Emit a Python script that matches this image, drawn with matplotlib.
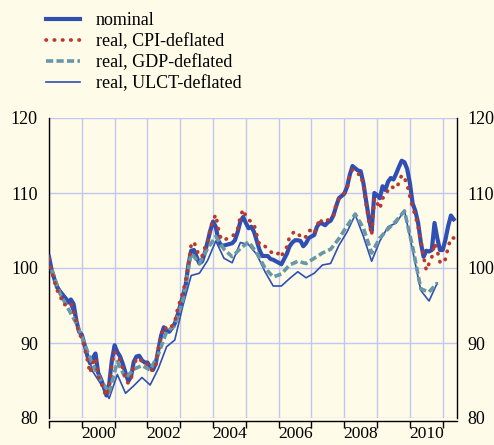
import numpy as np
import matplotlib
matplotlib.use("Agg")
import matplotlib.pyplot as plt
from matplotlib.lines import Line2D

# monthly series, Jan 1999 onwards
nominal = [
    101.5, 99.7, 98.5, 97.4, 96.9, 96.4, 95.9, 95.4, 95.8, 95.2, 93.0, 91.5,
    91.1, 89.8, 88.3, 87.3, 88.0, 88.6, 86.0, 85.2, 84.2, 83.0, 84.5, 87.7,
    89.7, 88.8, 88.2, 87.2, 86.0, 84.9, 85.5, 87.5, 88.2, 88.3, 87.7, 87.4,
    87.4, 86.8, 86.4, 87.2, 89.1, 91.0, 92.1, 91.6, 91.5, 92.0, 92.6, 93.7,
    95.0, 96.3, 97.8, 100.5, 102.3, 102.4, 101.5, 100.6, 100.9, 102.0, 103.5, 105.0,
    106.2, 105.5, 103.6, 103.0, 103.0, 103.1, 103.2, 103.3, 103.7, 104.8, 106.2, 106.8,
    106.0, 105.3, 105.5, 104.8, 103.6, 102.4, 101.6, 101.6, 101.6, 101.2, 101.1, 100.9,
    100.7, 100.5, 101.2, 101.9, 102.9, 103.4, 103.7, 103.7, 103.6, 102.9, 103.3, 104.0,
    104.2, 104.4, 105.5, 106.0, 105.9, 105.7, 106.1, 106.3, 107.0, 108.2, 109.3, 109.6,
    109.9, 110.8, 112.4, 113.6, 113.3, 113.0, 112.9, 111.3, 108.9, 106.6, 104.9, 110.0,
    109.7, 109.3, 110.9, 110.4, 111.5, 112.0, 111.8, 112.6, 113.5, 114.3, 114.1, 113.2,
    111.3, 108.6, 107.6, 106.0, 103.4, 101.5, 102.3, 102.2, 102.4, 106.0, 104.0, 102.4,
    102.4, 103.8, 105.6, 107.0, 106.5,
]
cpi_deflated = [
    101.2, 99.5, 98.2, 97.0, 96.5, 95.2, 95.1, 95.0, 95.3, 94.3, 92.8, 91.2,
    90.7, 89.3, 87.8, 86.0, 87.3, 88.0, 85.6, 84.8, 83.7, 82.9, 84.2, 87.2,
    88.8, 88.3, 87.7, 86.6, 85.3, 84.6, 85.2, 87.0, 87.9, 88.0, 87.5, 87.1,
    87.2, 86.5, 86.3, 87.0, 89.3, 91.0, 92.2, 91.9, 91.8, 92.3, 92.8, 94.5,
    95.7, 96.8, 98.3, 100.5, 103.1, 103.5, 102.5, 101.5, 101.6, 102.7, 103.3, 105.3,
    106.4, 107.1, 105.1, 103.8, 103.7, 103.9, 104.1, 104.2, 104.6, 105.2, 106.9, 107.8,
    106.9, 106.4, 106.2, 105.8, 104.4, 103.1, 102.9, 102.9, 102.5, 102.2, 101.9, 101.7,
    102.0, 101.5, 102.4, 102.8, 104.2, 104.6, 104.9, 104.6, 104.2, 103.9, 104.2, 105.0,
    105.0, 104.6, 105.5, 106.6, 106.0, 106.2, 106.4, 106.5, 107.0, 108.4, 109.2, 109.5,
    110.0, 110.6, 112.3, 113.1, 112.8, 112.5, 112.5, 111.0, 108.5, 106.2, 104.4, 109.3,
    108.7, 107.9, 109.3, 109.6, 110.4, 110.9, 110.7, 110.6, 111.4, 112.4, 112.0, 111.1,
    109.5, 108.0, 107.0, 105.5, 103.6, 101.5, 99.7, 100.6, 101.4, 103.3, 102.3, 100.8,
    100.6, 101.2, 102.8, 104.0, 104.0,
]
# quarterly series, 1999Q1 onwards
gdp_deflated = [
    99.8, 96.6, 94.6, 92.6, 89.9, 87.1, 85.0, 83.4, 87.5, 85.3, 86.5, 87.0,
    86.4, 88.5, 91.5, 92.3, 95.8, 102.0, 100.6, 102.6, 104.2, 102.5, 101.5, 102.6,
    103.5, 102.0, 100.0, 98.8, 99.2, 100.4, 100.9, 100.6, 101.3, 102.0, 102.5, 103.9,
    105.6, 107.2, 105.3, 102.0, 104.0, 105.2, 106.3, 107.6, 102.8, 97.2, 96.8, 98.0,
]
ulct_deflated = [
    99.4, 97.1, 95.8, 93.0, 89.8, 86.2, 84.5, 82.6, 85.8, 83.3, 84.3, 85.4,
    84.4, 86.6, 89.5, 90.4, 95.0, 99.0, 99.3, 101.0, 103.6, 101.3, 100.7, 103.4,
    103.1, 101.8, 99.5, 97.6, 97.6, 98.6, 99.5, 98.7, 99.3, 100.4, 100.6, 103.0,
    104.8, 107.1, 104.2, 100.9, 103.6, 105.5, 106.0, 107.7, 102.3, 97.0, 95.6, 98.0,
]
labels = ["nominal", "real, CPI-deflated", "real, GDP-deflated", "real, ULCT-deflated"]
year_labels = [2000, 2002, 2004, 2006, 2008, 2010]

t_month = 1999 + np.arange(len(nominal)) / 12
t_quarter = 1999 + (3 * np.arange(len(gdp_deflated)) + 1) / 12

bg = "#FEFCE8"
blue = "#2F4FB4"
red = "#B8392E"
teal = "#6897A6"
grid = "#C2C6F0"
dots = (0, (0.1, 2.1))
dashes = (0, (2.0, 0.9))

plt.rcParams["font.family"] = ["Liberation Serif", "DejaVu Serif"]

fig = plt.figure(figsize=(4.94, 4.45), dpi=100, facecolor=bg)
ax = fig.add_axes([49 / 494, 1 - 418 / 445, (456.5 - 49) / 494, 300 / 445], facecolor=bg)

ax.plot(t_quarter, ulct_deflated, color=blue, lw=1.2, zorder=3)
ax.plot(t_month, nominal, color=blue, lw=3.0, zorder=4)
ax.plot(t_quarter, gdp_deflated, color=teal, lw=2.6, ls=dashes, zorder=5)
ax.plot(t_month, cpi_deflated, color=red, lw=2.7, ls=dots,
        dash_capstyle="round", zorder=6)

ax.set_xlim(1999, 2011.42)
ax.set_ylim(80, 120)

ax.set_xticks(np.arange(1999, 2012))
ax.set_xticklabels([])
ax.set_xticks([y + 0.5 for y in year_labels], minor=True)
ax.set_xticklabels([str(y) for y in year_labels], minor=True)
ax.tick_params(axis="x", which="major", direction="out", length=5, width=1, color="black")
ax.tick_params(axis="x", which="minor", length=0, pad=4, labelsize=12.5)

ax.set_yticks([80, 90, 100, 110, 120])
ax.tick_params(axis="y", which="both", length=0, labelsize=13, pad=8,
               labelleft=True, labelright=True)

ax.grid(True, which="major", color=grid, lw=1.0, zorder=0)
ax.set_axisbelow(True)

for side in ["left", "right", "bottom"]:
    ax.spines[side].set_color("black")
    ax.spines[side].set_linewidth(1.0)
ax.spines["top"].set_visible(False)
ax.spines["bottom"].set_position(("outward", 2))

handles = [
    Line2D([], [], color=blue, lw=3.0),
    Line2D([], [], color=red, lw=2.7, ls=dots, dash_capstyle="round"),
    Line2D([], [], color=teal, lw=2.6, ls=dashes),
    Line2D([], [], color=blue, lw=1.2),
]
fig.legend(handles, labels, loc="upper left", bbox_to_anchor=(46 / 494, 1 - 12 / 445),
           frameon=False, fontsize=13, handlelength=1.9, handletextpad=0.85,
           labelspacing=0.22, borderpad=0, borderaxespad=0)

fig.savefig("out.png", dpi=100, facecolor=bg)
